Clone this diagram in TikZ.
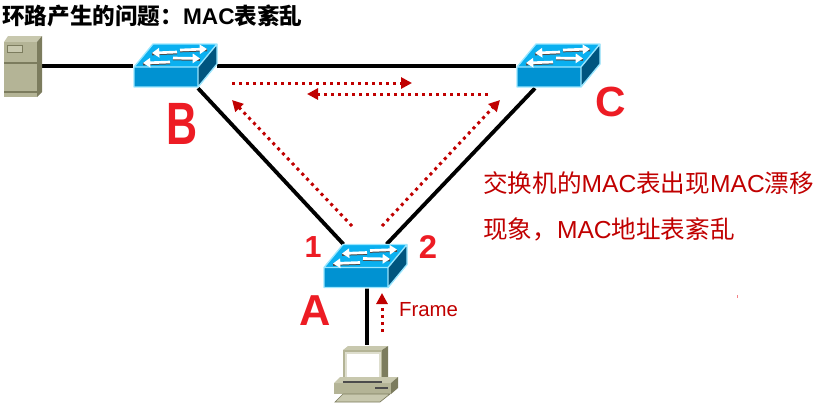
\documentclass[tikz,border=0pt]{standalone}
\usepackage{fontspec}
\setmainfont{Liberation Sans}
\newfontfamily\cjk{Noto Sans CJK SC}
\usetikzlibrary{arrows.meta}
\definecolor{flow}{HTML}{C00000}
\definecolor{pen}{HTML}{ED1C24}
\definecolor{swtop}{HTML}{0AB0F0}
\definecolor{swfront}{HTML}{0092D2}
\definecolor{swside}{HTML}{00557F}
\definecolor{swedge}{HTML}{99E6FF}
\definecolor{boxfront}{HTML}{B4B496}
\definecolor{boxtop}{HTML}{C8C8AE}
\definecolor{boxside}{HTML}{7C7C5E}
\newcommand{\mac}{{\rmfamily MAC}}
\newcommand{\fsize}[1]{\fontsize{#1}{#1}\selectfont}
\tikzset{
  link/.style={line width=0.115cm},
  hop/.style={flow, line width=0.09cm, dash pattern=on 0.09cm off 0.12cm, -{Triangle[length=0.33cm,width=0.33cm]}},
  hand/.style={pen, font=\bfseries, inner sep=0pt},
  swbox/.style={minimum width=2.52cm, minimum height=1.32cm, inner sep=0pt},
  switchicon/.pic={
    \fill[swtop] (-41,1) -- (-22,-22) -- (42,-22) -- (23,1) -- cycle;
    \fill[swside] (23,1) -- (42,-22) -- (42,-2) -- (23,21) -- cycle;
    \fill[swfront] (-41,1) rectangle (23,21);
    \draw[swedge, line width=0.04cm, line join=round] (-41,1) -- (-22,-22) -- (42,-22) -- (42,-2) -- (23,21) -- (-41,21) -- cycle (-41,1) -- (23,1) -- (42,-22) (23,1) -- (23,21);
    \foreach \ax/\ay/\bx/\by in {2/-14/-23/-13, 5/-16/32/-17, -5/-4/-32/-3, -2/-8/25/-7.5} {
      \draw[black!70, line width=0.08cm] (\ax,\ay+1) -- (\bx,\by+1);
      \draw[white, line width=0.08cm, -{Triangle[length=0.22cm,width=0.28cm]}] (\ax,\ay) -- (\bx,\by);
    }
  }
}
\begin{document}
\begin{tikzpicture}[x=0.03cm, y=-0.03cm]
  \useasboundingbox (0,0) rectangle (819,412);

  \node[minimum width=1.2cm, minimum height=1.83cm, inner sep=0pt] (srv) at (22,66) {};
  \node[swbox] (swB) at (175,66) {};
  \node[swbox] (swC) at (558,66) {};
  \node[swbox] (swA) at (365,266.5) {};
  \node[minimum width=1.98cm, minimum height=1.71cm, inner sep=0pt] (pc) at (367,373.5) {};

  \draw[link] (srv) -- (swB);
  \draw[link] (swB) -- (swC);
  \draw[link] (swB.-44) -- (swA.134);
  \draw[link] (swC.-136) -- (swA.46);
  \draw[link] (swA.-85) -- (pc.north);

  \pic at (swB.center) {switchicon};
  \pic at (swC.center) {switchicon};
  \pic at (swA.center) {switchicon};

  % server
  \fill[boxtop] (4,42) -- (8,36) -- (42,36) -- (37,42) -- cycle;
  \fill[boxside] (37,42) -- (42,36) -- (42,92) -- (37,97) -- cycle;
  \fill[boxfront] (4,42) rectangle (37,97);
  \fill[boxtop, draw=boxside, line width=0.01cm] (7,45) rectangle (22,52);
  \draw[boxside, line width=0.04cm] (4,63) -- (37,63) (4,92) -- (37,92);

  % computer
  \fill[boxtop] (343,350) -- (348,346) -- (388,346) -- (382,350) -- cycle;
  \fill[boxside] (382,350) -- (388,346) -- (388,377) -- (382,382) -- cycle;
  \fill[boxfront] (343,350) rectangle (382,382);
  \fill[boxtop!60!white] (345,352) rectangle (381,379);
  \fill[white] (347,354) rectangle (379,377);
  \fill[boxfront] (334,383) rectangle (391,394);
  \fill[boxtop] (334,383) -- (340,377) -- (398,377) -- (391,383) -- cycle;
  \fill[boxside] (391,383) -- (398,377) -- (398,388) -- (391,394) -- cycle;
  \draw[black!70, line width=0.04cm] (343,382) -- (382,382) (375,388) -- (388,388);
  \fill[boxtop, draw=boxside, line width=0.02cm] (335,402) -- (343,394) -- (390,394) -- (380,402) -- cycle;

  % frame flooding
  \coordinate (upS) at (382,332);
  \coordinate (upE) at (382,293);
  \coordinate (leftS) at (352,226);
  \coordinate (leftE) at (232,100);
  \coordinate (rightS) at (382,226);
  \coordinate (rightE) at (500,100);
  \coordinate (topS) at (232,83);
  \coordinate (topE) at (412,83);
  \coordinate (backS) at (488,94);
  \coordinate (backE) at (307,94);
  \draw[hop] (upS) -- (upE);
  \draw[hop] (leftS) -- (leftE);
  \draw[hop] (rightS) -- (rightE);
  \draw[hop] (topS) -- (topE);
  \draw[hop] (backS) -- (backE);

  \fill[pen!55] (736.5,294.5) rectangle (737.5,297.5);

  \node[anchor=west, inner sep=0pt, font=\fsize{19.3}\bfseries] (title) at (2,16) {\cjk 环路产生的问题：\mac 表紊乱};
  \node[anchor=west, inner sep=0pt, flow, font=\fsize{21}] (noteA) at (483,183) {\cjk 交换机的\mac 表出现\mac 漂移};
  \node[anchor=west, inner sep=0pt, flow, font=\fsize{21}] (noteB) at (483,229) {\cjk 现象，\mac 地址表紊乱};
  \node[anchor=center, inner sep=0pt, flow, font=\fsize{17.4}] (frame) at (428.5,310) {Frame};

  \node[hand, font=\fsize{37}\bfseries] (lblA) at (315.5,311) {A};
  \node[hand, font=\fsize{51}\bfseries, xscale=0.72] (lblB) at (182,123.5) {B};
  \node[hand, font=\fsize{36}\bfseries] (lblC) at (611,102) {C};
  \node[hand, font=\fsize{26}\bfseries] (lblOne) at (313,247) {1};
  \node[hand, font=\fsize{28}\bfseries] (lblTwo) at (428,247) {2};
\end{tikzpicture}
\end{document}
